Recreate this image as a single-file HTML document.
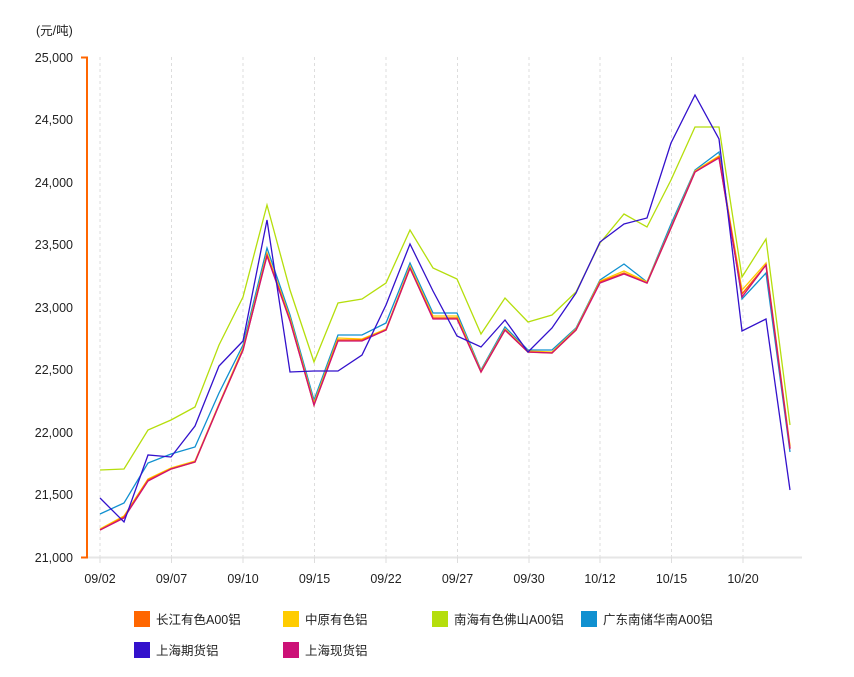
<!DOCTYPE html>
<html><head><meta charset="utf-8"><style>
body{margin:0;background:#fff;width:854px;height:672px;overflow:hidden;font-family:"Liberation Sans","Noto Sans CJK SC",sans-serif}
svg text{font-family:"Liberation Sans","Noto Sans CJK SC",sans-serif;font-size:12.5px;fill:#222}
</style></head><body>
<svg width="854" height="672" xmlns="http://www.w3.org/2000/svg">
<text x="36" y="35" font-size="12">(元/吨)</text>
<g stroke="#ddd" stroke-dasharray="3,3" stroke-width="1">
<line x1="100" y1="57" x2="100" y2="557"/><line x1="171.5" y1="57" x2="171.5" y2="557"/><line x1="243" y1="57" x2="243" y2="557"/><line x1="314.5" y1="57" x2="314.5" y2="557"/><line x1="386" y1="57" x2="386" y2="557"/><line x1="457.5" y1="57" x2="457.5" y2="557"/><line x1="529" y1="57" x2="529" y2="557"/><line x1="600" y1="57" x2="600" y2="557"/><line x1="671.5" y1="57" x2="671.5" y2="557"/><line x1="743" y1="57" x2="743" y2="557"/>
</g>
<line x1="87" y1="557.5" x2="802" y2="557.5" stroke="#e6e6e6" stroke-width="2"/>
<g stroke="#ddd"><line x1="100" y1="557" x2="100" y2="563"/><line x1="171.5" y1="557" x2="171.5" y2="563"/><line x1="243" y1="557" x2="243" y2="563"/><line x1="314.5" y1="557" x2="314.5" y2="563"/><line x1="386" y1="557" x2="386" y2="563"/><line x1="457.5" y1="557" x2="457.5" y2="563"/><line x1="529" y1="557" x2="529" y2="563"/><line x1="600" y1="557" x2="600" y2="563"/><line x1="671.5" y1="557" x2="671.5" y2="563"/><line x1="743" y1="557" x2="743" y2="563"/></g>
<g stroke="#ff6600" stroke-width="2" fill="none"><path d="M81 57.5H87V557.5H81"/></g>
<g text-anchor="end">
<text x="73" y="62">25,000</text><text x="73" y="124">24,500</text><text x="73" y="187">24,000</text><text x="73" y="249">23,500</text><text x="73" y="312">23,000</text><text x="73" y="374">22,500</text><text x="73" y="437">22,000</text><text x="73" y="499">21,500</text><text x="73" y="562">21,000</text>
</g>
<g text-anchor="middle">
<text x="100" y="583">09/02</text><text x="171.5" y="583">09/07</text><text x="243" y="583">09/10</text><text x="314.5" y="583">09/15</text><text x="386" y="583">09/22</text><text x="457.5" y="583">09/27</text><text x="529" y="583">09/30</text><text x="600" y="583">10/12</text><text x="671.5" y="583">10/15</text><text x="743" y="583">10/20</text>
</g>
<g fill="none" stroke-width="1.3">
<polyline stroke="#b5de0c" points="100,470 124,469 148,430 171,420 195,407 219,345 243,297 267,205 290,290 314,362 338,303 362,299 386,283 410,230 433,268 457,279 481,334 505,298 528,322 552,315 576,292 600,243 624,214 647,227 671,180 695,127 719,127 742,277 766,239 790,425"/>
<polyline stroke="#1090d0" points="100,514 124,503 148,463 171,454 195,447 219,393 243,345 267,248 290,315 314,400 338,335 362,335 386,323 410,263 433,313 457,313 481,370 505,327 528,350 552,350 576,328 600,280 624,264 647,282 671,224 695,170 719,152 742,299 766,273 790,452"/>
<polyline stroke="#ffcc00" points="100,529 124,516 148,479 171,468 195,461 219,404 243,348 267,253 290,318 314,403 338,338 362,339 386,329 410,266 433,316 457,316 481,371 505,329 528,351 552,352 576,329 600,281 624,271 647,282 671,227 695,171 719,156 742,290 766,263 790,446"/>
<polyline stroke="#ff6600" stroke-width="1.5" points="100,530 124,517 148,480 171,469 195,462 219,405 243,350 267,255 290,320 314,405 338,340 362,340 386,330 410,268 433,318 457,318 481,372 505,330 528,352 552,353 576,330 600,282 624,273 647,283 671,228 695,172 719,157 742,294 766,265 790,448"/>
<polyline stroke="#cc1177" points="100,530 124,518 148,481 171,469 195,462 219,405 243,350 267,256 290,321 314,405 338,341 362,341 386,330 410,268 433,319 457,319 481,372 505,330 528,352 552,353 576,330 600,283 624,274 647,283 671,228 695,172 719,158 742,297 766,265 790,449"/>
<polyline stroke="#3311cc" points="100,498 124,522 148,455 171,457 195,426 219,366 243,341 267,220 290,372 314,371 338,371 362,355 386,305 410,244 433,291 457,336 481,347 505,320 528,352 552,328 576,293 600,242 624,224 647,218 671,143 695,95 719,139 742,331 766,319 790,490"/>
</g>
<g>
<rect x="134" y="611" width="16" height="16" fill="#ff6600"/><text x="156" y="624">长江有色A00铝</text>
<rect x="283" y="611" width="16" height="16" fill="#ffcc00"/><text x="305" y="624">中原有色铝</text>
<rect x="432" y="611" width="16" height="16" fill="#b5de0c"/><text x="454" y="624">南海有色佛山A00铝</text>
<rect x="581" y="611" width="16" height="16" fill="#1090d0"/><text x="603" y="624">广东南储华南A00铝</text>
<rect x="134" y="642" width="16" height="16" fill="#3311cc"/><text x="156" y="655">上海期货铝</text>
<rect x="283" y="642" width="16" height="16" fill="#cc1177"/><text x="305" y="655">上海现货铝</text>
</g>
</svg>
</body></html>
